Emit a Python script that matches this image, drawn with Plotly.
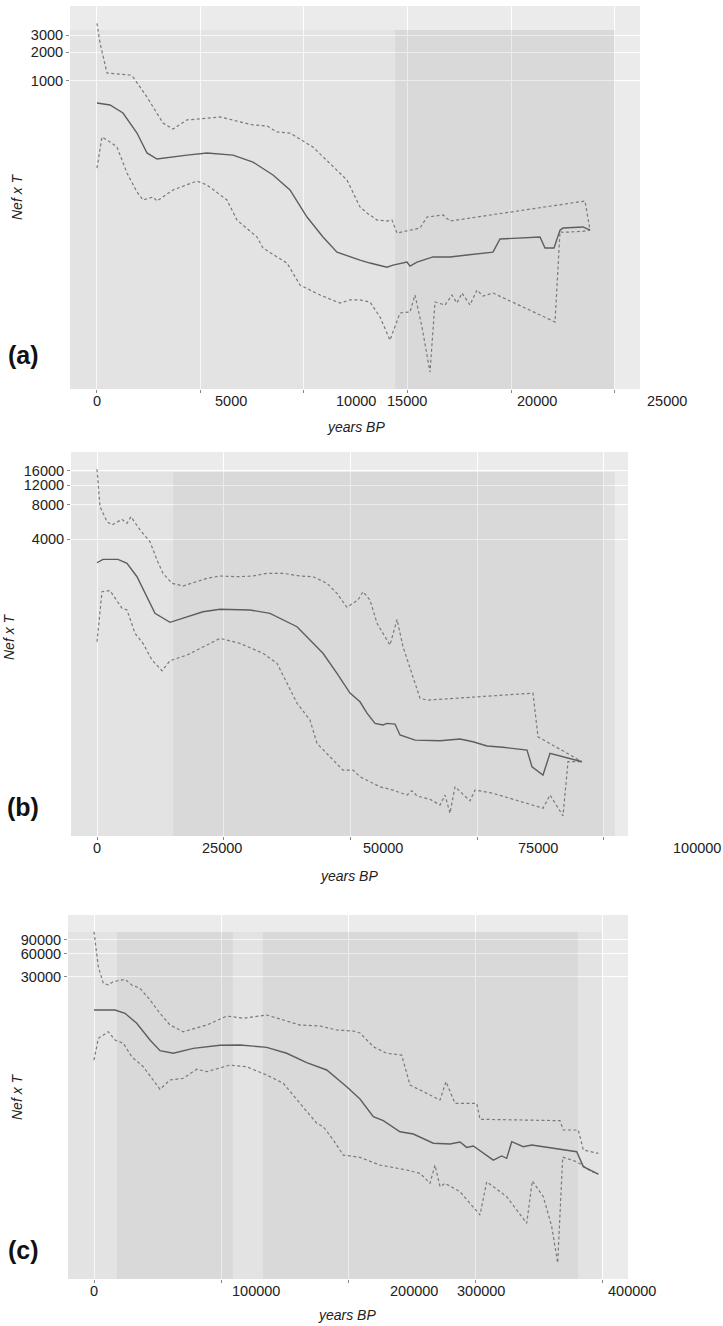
import plotly.graph_objects as go

# ---------------- Panel (a) data ----------------
a_up_x = [0, 145, 483, 1594, 1739, 2415, 3188, 3672, 4348, 5942, 7536, 8213, 8696, 9324, 10435, 11401, 12077, 12705,
          13043, 13527, 14010, 14251, 14493, 15604, 15942, 16715, 17053, 23575, 23817]
a_up_y = [3990, 2490, 1212, 1155, 1100, 681, 365, 316, 393, 422, 348, 340, 294, 287, 205, 127, 93, 48.7,
          42.2, 35.6, 34.8, 35.6, 26.1, 29.4, 38.3, 40.2, 34.8, 56.2, 28.0]
a_mid_x = [0, 628, 1256, 1932, 2415, 2899, 4348, 5314, 6570, 7536, 8502, 9324, 10145, 10918, 11594, 12367, 12705,
           13188, 14010, 14300, 14783, 14976, 15121, 15459, 16232, 17053, 17874, 19130, 19469, 21401, 21643, 22078,
           22368, 22512, 23478, 23817]
a_mid_y = [590, 562, 464, 287, 178, 154, 169, 178, 169, 143, 105, 73.3, 38.3, 23.7, 16.5, 14.3, 13.6,
           12.7, 11.5, 12.1, 12.7, 13.0, 11.8, 13.0, 14.7, 14.7, 15.4, 16.5, 22.6, 23.7, 18.2, 18.2,
           28.0, 29.4, 30.2, 28.0]
a_low_x = [0, 242, 628, 966, 1449, 1932, 2222, 2705, 2899, 3672, 4831, 5314, 6280, 6763, 7730, 8019, 8696, 9179,
           9807, 10773, 11739, 12222, 12705, 13188, 13672, 14155, 14638, 15121, 15362, 15700, 16087, 16329, 16812,
           17150, 17392, 17633, 18019, 18358, 18648, 19130, 22126, 22368, 22512, 23478, 23817]
a_low_y = [124, 261, 232, 205, 110, 69.8, 57.6, 61.9, 56.2, 73.3, 90.8, 82.5, 57.6, 35.6, 23.7, 18.2, 14.7, 12.7,
           7.5, 5.9, 4.87, 5.24, 5.24, 4.99, 3.48, 2.0, 3.83, 3.93, 5.9, 2.74, 0.93, 4.99, 4.64,
           5.9, 4.87, 6.19, 4.64, 6.65, 5.76, 6.19, 3.09, 27.0, 26.5, 27.2, 28.0]
a_yticks = [1000, 2000, 3000]
a_xgrid = [0, 5000, 10000, 15000, 20000, 25000]
a_xlabels = ["0", "5000", "10000", "15000", "20000", "25000"]
a_rect_all = (-5000, 25000, 3400)
a_rect_dark = [(14400, 25000, 3400)]

# ---------------- Panel (b) data ----------------
b_up_x = [0, 592, 1973, 2960, 4933, 5919, 6708, 8484, 10457, 11838, 13022, 14798, 16968, 19730, 21703, 24268,
          27622, 30779, 33541, 36698, 40052, 42617, 45379, 47352, 49325, 51495, 52482, 53863, 55244, 57809,
          59190, 60374, 63728, 65109, 86023, 87010, 92731, 95691]
b_up_y = [16560, 7730, 5690, 5320, 5970, 5510, 6300, 4810, 3785, 2606, 1987, 1622, 1535, 1675, 1795, 1882,
          1855, 1882, 1987, 1987, 1882, 1855, 1622, 1322, 995, 1155, 1368, 1155, 718, 461,
          778, 446, 156, 150, 173, 71.1, 50.7, 42.8]
b_mid_x = [0, 1184, 4143, 5919, 7892, 9865, 11443, 14403, 17757, 20914, 24268, 30187, 34133, 36698, 39460, 42025,
           44590, 47352, 49917, 51890, 53271, 54849, 56428, 57217, 58796, 59782, 62742, 67674, 71620, 74185,
           76948, 80104, 84840, 85826, 87996, 89377, 93323, 95691]
b_mid_y = [2466, 2642, 2642, 2438, 1855, 1233, 879, 732, 821, 909, 955, 942, 879, 767, 670, 511,
           390, 259, 173, 145, 115, 93.5, 90.4, 93.5, 92.2, 73.8, 66.5, 65.6, 67.9, 64.3,
           58.9, 57.4, 54.3, 38.6, 32.6, 50.8, 45.8, 42.8]
b_low_x = [0, 987, 2565, 4933, 5919, 7497, 9076, 10852, 12825, 14403, 17757, 20322, 24268, 28214, 32752, 35514,
           37487, 39460, 42025, 43406, 45971, 48536, 50509, 51890, 55836, 58401, 61163, 62150, 63136, 65701,
           67674, 68661, 69647, 70634, 73593, 74580, 78131, 87996, 89377, 91942, 92929, 95691]
b_low_y = [493, 1368, 1396, 975, 942, 585, 477, 340, 273, 335, 376, 431, 528, 477, 390, 318,
           211, 141, 100, 62.2, 47.3, 36.1, 36.1, 31.5, 25.7, 24.0, 21.7, 23.7, 21.3, 19.9,
           17.7, 21.7, 15.0, 25.7, 19.3, 24.0, 22.5, 16.6, 21.7, 14.2, 42.8, 42.8]
b_yticks = [4000, 8000, 12000, 16000]
b_xgrid = [0, 25000, 50000, 75000, 100000]
b_xlabels = ["0", "25000", "50000", "75000", "100000"]
b_rect_all = (-20000, 100000, 15700)
b_rect_dark = [(15000, 102200, 15700)]

# ---------------- Panel (c) data ----------------
c_up_x = [0, 3386, 7323, 11260, 15197, 24409, 29685, 36220, 44094, 51968, 59842, 70315, 88740, 104488, 117559,
          135984, 149055, 162204, 177952, 191102, 204173, 209448, 219921, 230472, 242283, 248819, 272441,
          277165, 284252, 301339, 303937, 366929, 369528, 381339, 385276, 397087]
c_up_y = [115000, 40700, 24900, 23700, 26100, 28000, 23700, 21400, 15200, 10200, 7210, 5910, 7210, 9420, 8810,
          9710, 8370, 7210, 7010, 6220, 6040, 5690, 3790, 3120, 2960, 1217, 780,
          1343, 706, 706, 440, 422, 320, 320, 177, 160]
c_mid_x = [0, 16535, 24409, 33622, 44094, 51968, 62441, 78189, 99212, 114960, 135984, 151732, 167480, 183228,
           198976, 209448, 219921, 227795, 240945, 251417, 267165, 280315, 288189, 293465, 298661, 314409,
           321024, 324961, 328898, 338032, 344646, 380080, 385276, 397087]
c_mid_y = [11270, 11270, 10200, 7590, 4620, 3370, 3120, 3610, 3950, 3990, 3720, 3120, 2360, 1900,
           1157, 804, 475, 422, 304, 284, 216, 211, 224, 191, 199, 131,
           148, 138, 226, 195, 205, 168, 108, 86.7]
c_low_x = [0, 3386, 11260, 16535, 23071, 29685, 38819, 51968, 59842, 70315, 80866, 88740, 107087, 120236, 135984,
           149055, 162204, 175354, 180551, 188425, 196299, 204173, 209448, 225196, 246220, 256692, 264567,
           268504, 272441, 276378, 288189, 303937, 309213, 324961, 340709, 345118, 353780, 360394, 365118,
           369055, 380080, 385276, 391890, 397087]
c_low_y = [2550, 4860, 5910, 4620, 4200, 2820, 2090, 1071, 1412, 1486, 1941, 1807, 2200, 2090, 1637,
           1279, 706, 391, 353, 238, 152, 145, 142, 113, 97.7, 88.5, 65.8,
           113, 59.6, 65.8, 51.3, 25.7, 69.0, 44.3, 20.1, 70.5, 44.3, 18.2, 6.2,
           143, 125, 110, 92.9, 86.7]
c_yticks = [30000, 60000, 90000]
c_xgrid = [0, 100000, 200000, 300000, 400000]
c_xlabels = ["0", "100000", "200000", "300000", "400000"]
c_rect_all = (-50000, 400000, 114000)
c_rect_dark = [(18100, 109400, 114000), (133000, 381100, 114000)]

# ---------------- layout geometry (pixels in a 723 x 1326 page) ----------------
W, H = 723, 1326
panels = [
    dict(tag="(a)", up=(a_up_x, a_up_y), mid=(a_mid_x, a_mid_y), low=(a_low_x, a_low_y),
         yticks=a_yticks, xgrid=a_xgrid, xlabels=a_xlabels, rect_all=a_rect_all, rect_dark=a_rect_dark,
         px=(70, 640), py=(6, 389), xr=(-1304, 26232), yr=(-0.208, 3.781),
         label_px=[97, 231, 356, 407, 537, 667],
         title_y=427, title_x=356, ylab=(17, 197), tag_y=355),
    dict(tag="(b)", up=(b_up_x, b_up_y), mid=(b_mid_x, b_mid_y), low=(b_low_x, b_low_y),
         yticks=b_yticks, xgrid=b_xgrid, xlabels=b_xlabels, rect_all=b_rect_all, rect_dark=b_rect_dark,
         px=(71, 628), py=(452, 836), xr=(-5130, 104766), yr=(0.974, 4.372),
         label_px=[97, 222, 383, 538, 697],
         title_y=876, title_x=349, ylab=(9, 637), tag_y=807),
    dict(tag="(c)", up=(c_up_x, c_up_y), mid=(c_mid_x, c_mid_y), low=(c_low_x, c_low_y),
         yticks=c_yticks, xgrid=c_xgrid, xlabels=c_xlabels, rect_all=c_rect_all, rect_dark=c_rect_dark,
         px=(68, 628), py=(915, 1279), xr=(-20472, 420472), yr=(0.585, 5.276),
         label_px=[94, 256, 414, 481, 632],
         title_y=1315, title_x=347, ylab=(17, 1097), tag_y=1250),
]

FONT = "Liberation Sans, Arial, Helvetica, sans-serif"
fig = go.Figure()
annotations = []
layout_axes = {}

for i, p in enumerate(panels):
    n = "" if i == 0 else str(i + 1)
    xa, ya = "x" + n, "y" + n
    xmin, xmax = p["xr"]
    ylo = 10 ** (p["yr"][0] - 1)
    # background rectangles (translucent so white grid shows through)
    x0, x1, top = p["rect_all"]
    fig.add_trace(go.Scatter(x=[xmin - 1e6, x1, x1, xmin - 1e6, xmin - 1e6], y=[ylo, ylo, top, top, ylo],
                             fill="toself", fillcolor="rgba(0,0,0,0.032)", line=dict(width=0),
                             mode="lines", hoverinfo="skip", showlegend=False, xaxis=xa, yaxis=ya))
    for (d0, d1, dtop) in p["rect_dark"]:
        fig.add_trace(go.Scatter(x=[d0, d1, d1, d0, d0], y=[ylo, ylo, dtop, dtop, ylo],
                                 fill="toself", fillcolor="rgba(0,0,0,0.045)", line=dict(width=0),
                                 mode="lines", hoverinfo="skip", showlegend=False, xaxis=xa, yaxis=ya))
    # lines
    for key, dash, col, wd in [("up", "3px,2.5px", "#7a7a7a", 1.2), ("low", "3px,2.5px", "#7a7a7a", 1.2),
                               ("mid", "solid", "#5e5e5e", 1.4)]:
        xs, ys = p[key]
        fig.add_trace(go.Scatter(x=xs, y=ys, mode="lines", line=dict(color=col, width=wd, dash=dash),
                                 showlegend=False, xaxis=xa, yaxis=ya))
    dx = [p["px"][0] / W, p["px"][1] / W]
    dy = [1 - p["py"][1] / H, 1 - p["py"][0] / H]
    layout_axes["xaxis" + n] = dict(domain=dx, range=list(p["xr"]), anchor=ya, tickvals=p["xgrid"],
                                    showticklabels=False, ticks="outside", ticklen=3, tickcolor="#888",
                                    showgrid=True, gridcolor="white", gridwidth=1, zeroline=False,
                                    showline=False)
    layout_axes["yaxis" + n] = dict(domain=dy, type="log", range=list(p["yr"]), anchor=xa,
                                    tickvals=p["yticks"], ticktext=[str(v) for v in p["yticks"]],
                                    ticks="outside", ticklen=3, tickcolor="#888",
                                    tickfont=dict(family=FONT, size=14.5, color="#222"),
                                    showgrid=True, gridcolor="white", gridwidth=1, zeroline=False,
                                    showline=False)
    # x tick labels (hand-placed in the original figure)
    for lab, lpx in zip(p["xlabels"], p["label_px"]):
        annotations.append(dict(text=lab, x=lpx / W, xref="paper", y=1 - (p["py"][1] + 12) / H,
                                yref="paper", showarrow=False, xanchor="center", yanchor="middle",
                                font=dict(family=FONT, size=14.5, color="#222")))
    annotations.append(dict(text="<i>years BP</i>", x=p["title_x"] / W, y=1 - p["title_y"] / H, xref="paper",
                            yref="paper", showarrow=False, xanchor="center", yanchor="middle",
                            font=dict(family=FONT, size=14, color="#222")))
    annotations.append(dict(text="<i>Nef x T</i>", x=p["ylab"][0] / W, y=1 - p["ylab"][1] / H, xref="paper",
                            yref="paper", showarrow=False, xanchor="center", yanchor="middle", textangle=-90,
                            font=dict(family=FONT, size=14, color="#222")))
    annotations.append(dict(text="<b>" + p["tag"] + "</b>", x=23 / W, y=1 - p["tag_y"] / H, xref="paper",
                            yref="paper", showarrow=False, xanchor="center", yanchor="middle",
                            font=dict(family=FONT, size=25, color="#111")))

fig.update_layout(width=W, height=H, margin=dict(l=0, r=0, t=0, b=0), paper_bgcolor="white",
                  plot_bgcolor="#EBEBEB", annotations=annotations, showlegend=False, **layout_axes)
fig.write_html("out.html")
